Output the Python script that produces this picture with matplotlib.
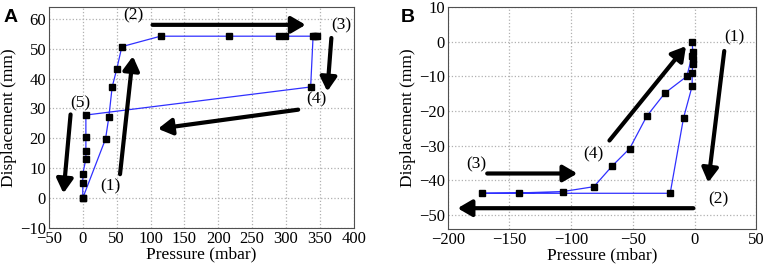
import matplotlib
matplotlib.use("Agg")
from matplotlib import pyplot as plt

plt.rcParams['font.family'] = ['Liberation Serif', 'DejaVu Serif']

# panel A: loading / unloading path (pressure in mbar, displacement in mm)
press_a = [0, 33.6, 38.5, 43.4, 50.3, 57.7, 114.8, 216, 290.4, 298.7, 343, 346, 340,
           336.4, 4.6, 4.6, 4.6, 4.6, 0, 0, 0]
disp_a = [0, 19.8, 27.1, 37.2, 43.3, 50.7, 54.2, 54.2, 54.2, 54.2, 54.2, 54.2, 54.2,
          37.2, 27.8, 20.4, 15.7, 13.1, 8.1, 5.0, 0]

# panel B: vacuum path
press_b = [-2, -1.5, -1, -1.5, -2, -2, -9, -19.8, -172, -142.2, -106.7, -81.6,
           -66.7, -52.6, -38.8, -24, -6.3, -2]
disp_b = [0, -3, -5, -6.5, -9, -12.8, -22, -43.7, -43.7, -43.6, -43.2, -41.8,
          -35.8, -30.8, -21.5, -14.8, -10, -4]

# arrows: (tail x, tail y, head x, head y)
arrows_a = [(55, 8, 74, 47.5), (103, 58, 329, 58), (367, 53.6, 361, 35.7),
            (318, 29.6, 111, 23.2), (-18, 28, -28.5, 1.6)]
labels_a = [('(1)', 41, 3.8), ('(2)', 74, 61), ('(3)', 381, 57.7),
            ('(4)', 345, 33.2), ('(5)', -3, 31.8)]
arrows_b = [(-69, -28.5, -7, -1.3), (24, -2.7, 11, -40.6), (-1, -48, -192, -48),
            (-168, -38, -95, -38)]
labels_b = [('(1)', 32, 1.2), ('(2)', 19, -45.5), ('(3)', -177, -35.5),
            ('(4)', -82, -32.5)]

fig = plt.figure(figsize=(7.64, 2.66), dpi=100)
ax1 = fig.add_axes([0.064, 0.143, 0.399, 0.831])
ax2 = fig.add_axes([0.586, 0.139, 0.404, 0.835])


def draw(ax, x, y, arrows, labels):
    ax.plot(x, y, c='#3030ff', lw=0.9, marker='s', ms=3.8, mfc='black', mec='black', zorder=3)
    for x0, y0, x1, y1 in arrows:
        ax.annotate('', xy=(x1, y1), xytext=(x0, y0),
                    arrowprops=dict(arrowstyle='-|>,head_length=0.6,head_width=0.35',
                                    lw=3, color='black', shrinkA=0, shrinkB=0,
                                    mutation_scale=14), zorder=4)
    for t, lx, ly in labels:
        ax.text(lx, ly, t, fontsize=12.5, ha='center', va='center')
    ax.grid(True, ls=':', color='#b0b0b0', lw=0.9)
    ax.set_axisbelow(True)
    ax.tick_params(length=0, labelsize=12, pad=2)
    for s in ax.spines.values():
        s.set_color('#505050')
    ax.set_xlabel('Pressure (mbar)', fontsize=12.5, labelpad=0)
    ax.set_ylabel('Displacement (mm)', fontsize=12.5, labelpad=2)


draw(ax1, press_a, disp_a, arrows_a, labels_a)
ax1.set_xlim(-50, 400)
ax1.set_ylim(-10, 64)
ax1.set_xticks(range(-50, 401, 50))
ax1.set_yticks(range(-10, 61, 10))

draw(ax2, press_b, disp_b, arrows_b, labels_b)
ax2.set_xlim(-200, 50)
ax2.set_ylim(-54, 10)
ax2.set_xticks(range(-200, 51, 50))
ax2.set_yticks(range(-50, 11, 10))

fig.text(0.005, 0.965, 'A', fontsize=14, fontweight='bold', family='Liberation Sans', va='top')
fig.text(0.524, 0.965, 'B', fontsize=14, fontweight='bold', family='Liberation Sans', va='top')

fig.savefig('out.png', dpi=100)
